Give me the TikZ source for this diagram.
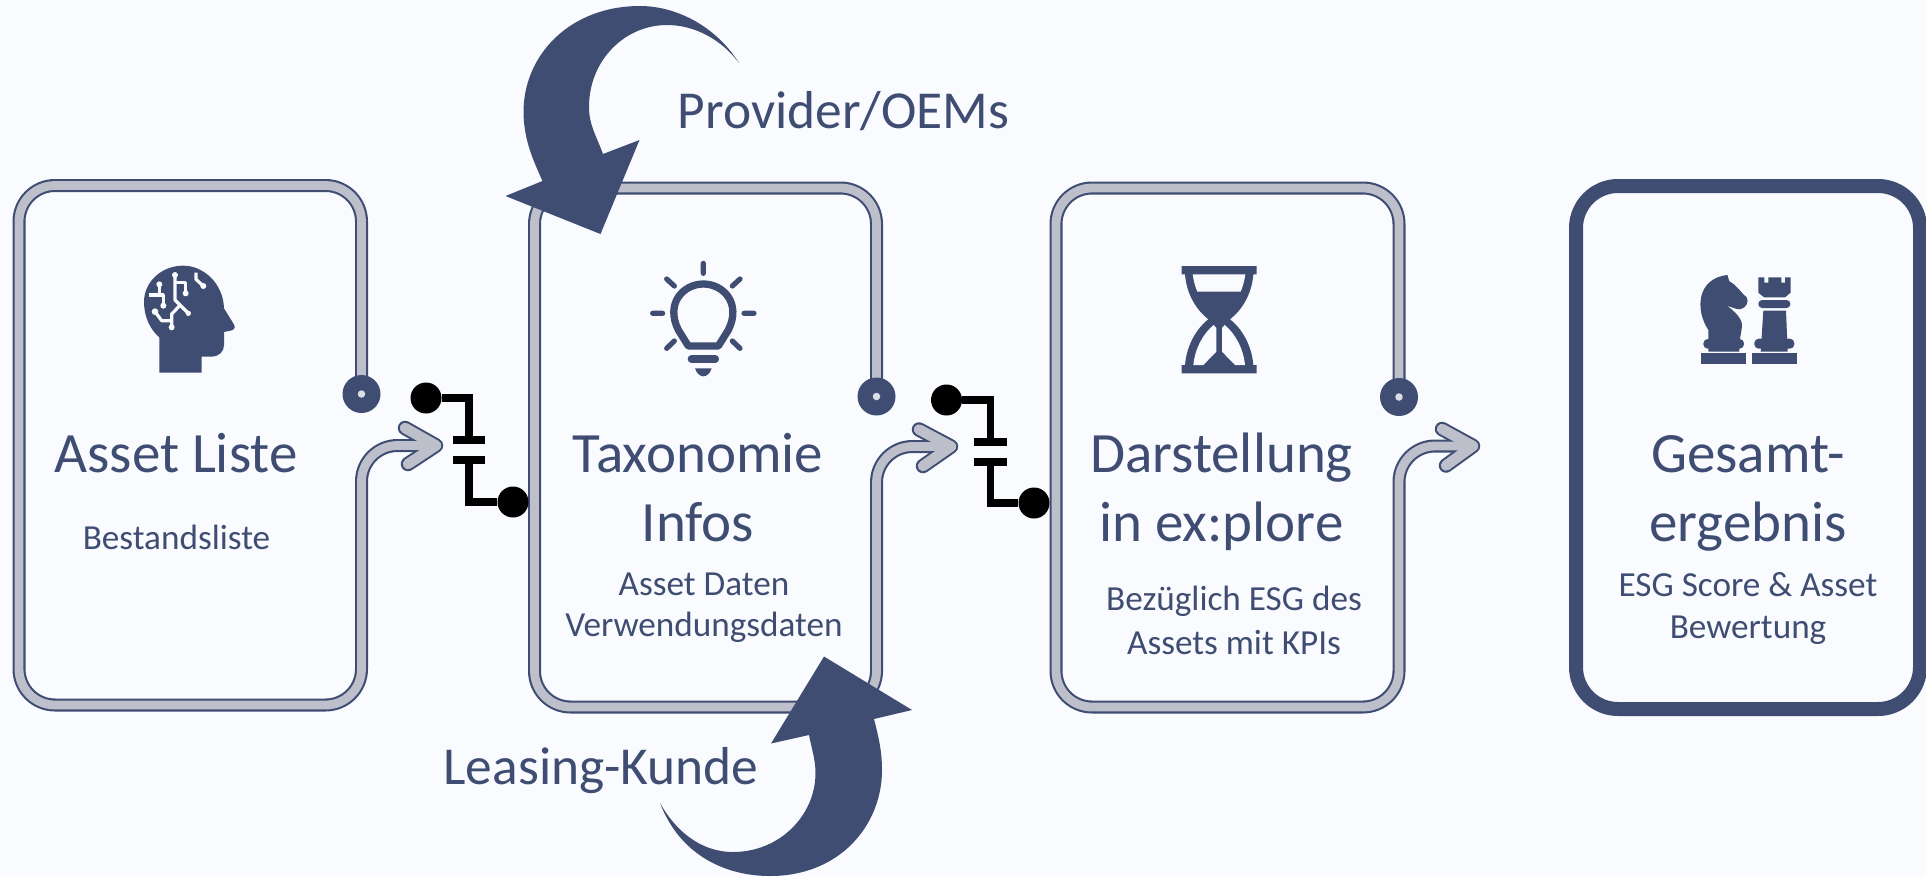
\documentclass[tikz,border=0pt]{standalone}
\usepackage{fontspec}
\setmainfont{Carlito}
\definecolor{navy}{HTML}{3F4D73}
\definecolor{bandgrey}{HTML}{BDBFCA}
\definecolor{bgc}{HTML}{F9FBFE}
\definecolor{holec}{HTML}{DDDFE6}
\tikzset{
  bandout/.style={draw=navy,line width=13pt,line cap=round,line join=round,rounded corners=36pt},
  bandin/.style={draw=bandgrey,line width=8.8pt,line cap=round,line join=round,rounded corners=36pt},
  headout/.style={draw=navy,line width=14.5pt,line cap=round,line join=round},
  headin/.style={draw=bandgrey,line width=10.5pt,line cap=round,line join=round},
  knob/.style={circle,fill=navy,minimum size=38pt,inner sep=0pt},
  knobhole/.style={circle,fill=holec,minimum size=7.5pt,inner sep=0pt},
  pole/.style={circle,fill=black,minimum size=31pt,inner sep=0pt},
  wire/.style={draw=black,line width=7.5pt,line join=miter},
  plate/.style={draw=black,line width=8pt},
  titletext/.style={anchor=base,text=navy,font=\fontsize{57}{57}\selectfont,inner sep=0pt},
  subtext/.style={anchor=base,text=navy,font=\fontsize{35.2}{35.2}\selectfont,inner sep=0pt},
  sidetext/.style={anchor=base,text=navy,font=\fontsize{53.4}{53.4}\selectfont,inner sep=0pt},
  zoomed/.style 2 args={shift={(#1,#2)},x=0.33333pt,y=-0.33333pt},
  bigarrow/.style={fill=navy,draw=none},
  bulbline/.style={draw=navy,line cap=round,line join=round}
}
\newcommand{\arrowband}[2]{%
  \path[bandout] #1;
  \path[headout] #2;
  \path[bandin] #1;
  \path[headin] #2;
}
\begin{document}
\begin{tikzpicture}[x=1pt,y=-1pt]
\useasboundingbox (0,0) rectangle (1926,876);
\fill[bgc] (0,0) rectangle (1926,876);

% --- box 1
\coordinate (k1) at (361.5,394);
\coordinate (a1tip) at (436,445.5);
\coordinate (a1u) at (405,428);
\coordinate (a1l) at (408,464);
\arrowband{(k1) -- (361.5,185.5) -- (19,185.5) -- (19,705) -- (361.5,705) -- (361.5,445.5) -- (a1tip)}{(a1u) -- (a1tip) -- (a1l)}
\node[knob] (kn1) at (k1) {};
\node[knobhole] (kh1) at (k1) {};

% --- box 2
\coordinate (k2) at (876.5,396.5);
\coordinate (a2tip) at (951,446.5);
\coordinate (a2u) at (919,429.5);
\coordinate (a2l) at (923,466);
\arrowband{(k2) -- (876.5,188) -- (534.5,188) -- (534.5,707) -- (876.5,707) -- (876.5,446.5) -- (a2tip)}{(a2u) -- (a2tip) -- (a2l)}
\node[knob] (kn2) at (k2) {};
\node[knobhole] (kh2) at (k2) {};

% --- box 3
\coordinate (k3) at (1399,397);
\coordinate (a3tip) at (1473,446);
\coordinate (a3u) at (1442,429);
\coordinate (a3l) at (1446,465.5);
\arrowband{(k3) -- (1399,188) -- (1056,188) -- (1056,707) -- (1399,707) -- (1399,446) -- (a3tip)}{(a3u) -- (a3tip) -- (a3l)}
\node[knob] (kn3) at (k3) {};
\node[knobhole] (kh3) at (k3) {};

% --- box 4
\node[draw=navy,line width=14pt,rounded corners=42pt,minimum width=344pt,minimum height=523pt,inner sep=0pt] (box4) at (1748,447.5) {};

% --- capacitor 1
\node[pole] (p1a) at (426,398) {};
\node[pole] (p1b) at (513,502) {};
\coordinate (c1u) at (469,440);
\coordinate (c1l) at (469,460);
\draw[wire] (p1a) -- (c1u |- p1a) -- (c1u);
\draw[wire] (p1b) -- (c1l |- p1b) -- (c1l);
\draw[plate] (453,440) -- (485,440);
\draw[plate] (453,460) -- (485,460);

% --- capacitor 2
\node[pole] (p2a) at (946.5,400) {};
\node[pole] (p2b) at (1034,503) {};
\coordinate (c2u) at (990.5,441.5);
\coordinate (c2l) at (990.5,461.5);
\draw[wire] (p2a) -- (c2u |- p2a) -- (c2u);
\draw[wire] (p2b) -- (c2l |- p2b) -- (c2l);
\draw[plate] (974,441.5) -- (1006.5,441.5);
\draw[plate] (974,461.5) -- (1006.5,461.5);

% --- curved arrows
\path[bigarrow] (739,63) .. controls (715,25) and (675,6) .. (640,6)
  .. controls (570,6) and (523,55) .. (523.5,113)
  .. controls (524,140) and (533,160) .. (542.5,181)
  -- (505.5,196) -- (600.5,234) -- (639.5,140) -- (603,154)
  .. controls (596,135) and (589,125) .. (589,107)
  .. controls (589,60) and (625,25) .. (667,25)
  .. controls (695,25) and (722,40) .. (739,63) -- cycle;
\path[bigarrow] (660,803) .. controls (680,855) and (725,876) .. (770,876)
  .. controls (840,876) and (882,825) .. (882,770)
  .. controls (882,750) and (878,735) .. (874,719)
  -- (912,710) -- (824,656.5) -- (771,743.5) -- (809,735)
  .. controls (812,750) and (815.5,760) .. (815.5,773)
  .. controls (815.5,815) and (780,852) .. (733,852)
  .. controls (700,852) and (675,830) .. (660,803) -- cycle;

% --- head icon
\begin{scope}[zoomed={120}{250}]
\fill[navy] (118,368) -- (245,368) -- (245,320) -- (272,320)
  .. controls (298,320) and (312,305) .. (312,285) -- (312,246) -- (335,241)
  .. controls (345,238) and (346,230) .. (341,222) -- (312,175)
  .. controls (310,100) and (250,47) .. (190,47)
  .. controls (120,47) and (72,100) .. (72,155)
  .. controls (72,200) and (90,238) .. (118,262) -- cycle;
\begin{scope}[draw=bgc,line width=3.2pt,line join=round,fill=bgc]
\draw (165,75) -- (165,150) -- (205,190);
\draw (165,98) -- (197,98) -- (197,130);
\draw (180,166) -- (155,192) -- (155,232);
\draw (155,212) -- (125,212) -- (105,185);
\draw (118,103) -- (118,135);
\draw (88,135) -- (130,135) -- (130,167);
\draw (228,68) -- (228,88) -- (250,108);
\fill (165,75) circle[radius=9] (197,130) circle[radius=9] (205,190) circle[radius=8]
  (155,232) circle[radius=9] (105,185) circle[radius=10] (118,103) circle[radius=9]
  (130,167) circle[radius=9] (250,108) circle[radius=9];
\end{scope}
\end{scope}

% --- bulb icon
\begin{scope}[zoomed={630}{250}]
\draw[bulbline,line width=7.3pt] (175,288) -- (145,240)
  .. controls (105,160) and (160,102) .. (220,102)
  .. controls (280,102) and (335,160) .. (295,240) -- (265,288) -- cycle;
\draw[bulbline,line width=5.2pt] (220,40) -- (220,70) (110,87) -- (133,108) (330,87) -- (307,108)
  (68,190) -- (98,190) (342,190) -- (372,190) (110,295) -- (133,273) (330,295) -- (307,273);
\draw[bulbline,line width=7.3pt] (184,327) -- (256,327);
\fill[navy] (195,355) -- (245,355) .. controls (240,372) and (228,379) .. (220,379) .. controls (212,379) and (200,372) .. (195,355) -- cycle;
\end{scope}

% --- hourglass icon
\begin{scope}[zoomed={1140}{240}]
\fill[navy] (125,78) -- (350,78) -- (350,103) -- (340,103)
  .. controls (335,165) and (305,210) .. (270,238)
  .. controls (305,265) and (335,315) .. (340,375)
  -- (350,375) -- (350,400) -- (125,400) -- (125,375) -- (135,375)
  .. controls (140,315) and (170,265) .. (205,238)
  .. controls (170,210) and (140,165) .. (135,103) -- (125,103) -- cycle;
\fill[bgc] (158,103) -- (316,103) .. controls (313,125) and (308,140) .. (302,155) -- (172,155)
  .. controls (166,140) and (161,125) .. (158,103) -- cycle;
\fill[bgc] (221,255) -- (229,264) -- (229,335) -- (190,375) -- (160,375)
  .. controls (165,325) and (190,280) .. (221,255) -- cycle;
\fill[bgc] (254,255) -- (246,264) -- (246,335) -- (285,375) -- (315,375)
  .. controls (310,325) and (285,280) .. (254,255) -- cycle;
\end{scope}

% --- chess icon
\begin{scope}[zoomed={1640}{240}]
\fill[navy] (182,340) rectangle (318,372);
\fill[navy,rounded corners=4.4pt] (190,297) rectangle (312,326);
\fill[navy] (205,335) -- (205,270) .. controls (165,210) and (170,115) .. (262,105)
  -- (268,124) .. controls (290,135) and (300,155) .. (320,172)
  .. controls (328,185) and (318,205) .. (300,208)
  .. controls (285,208) and (275,200) .. (262,198)
  .. controls (285,215) and (305,235) .. (306,255)
  .. controls (306,275) and (298,285) .. (298,335) -- cycle;
\fill[navy] (335,340) rectangle (470,372);
\fill[navy,rounded corners=4.4pt] (343,296) rectangle (463,326);
\fill[navy] (370,212) -- (438,212) -- (443,335) -- (362,335) -- cycle;
\fill[navy,rounded corners=3.8pt] (355,180) rectangle (451,204);
\fill[navy] (355,112) -- (373,112) -- (373,128) -- (385,128) -- (385,112) -- (424,112)
  -- (424,128) -- (435,128) -- (435,112) -- (452,112) -- (452,158) -- (435,172) -- (372,172) -- (355,158) -- cycle;
\end{scope}

% --- texts
\node[titletext] (t1) at (176,472) {Asset Liste};
\node[subtext] (s1) at (176.5,549) {Bestandsliste};
\node[titletext] (t2a) at (698,472.5) {Taxonomie};
\node[titletext] (t2b) at (698,541.5) {Infos};
\node[subtext] (s2a) at (704,595) {Asset Daten};
\node[subtext] (s2b) at (704,636) {Verwendungsdaten};
\node[titletext] (t3a) at (1221.5,472.5) {Darstellung};
\node[titletext] (t3b) at (1221.5,541.5) {in ex:plore};
\node[subtext] (s3a) at (1234,610) {Bezüglich ESG des};
\node[subtext] (s3b) at (1234,654) {Assets mit KPIs};
\node[titletext] (t4a) at (1748,472.5) {Gesamt-};
\node[titletext] (t4b) at (1748,541) {ergebnis};
\node[subtext] (s4a) at (1748,596) {ESG Score \& Asset};
\node[subtext] (s4b) at (1748,638) {Bewertung};
\node[sidetext] (prov) at (843.5,128) {Provider/OEMs};
\node[sidetext] (leas) at (601,784) {Leasing-Kunde};
\end{tikzpicture}
\end{document}
